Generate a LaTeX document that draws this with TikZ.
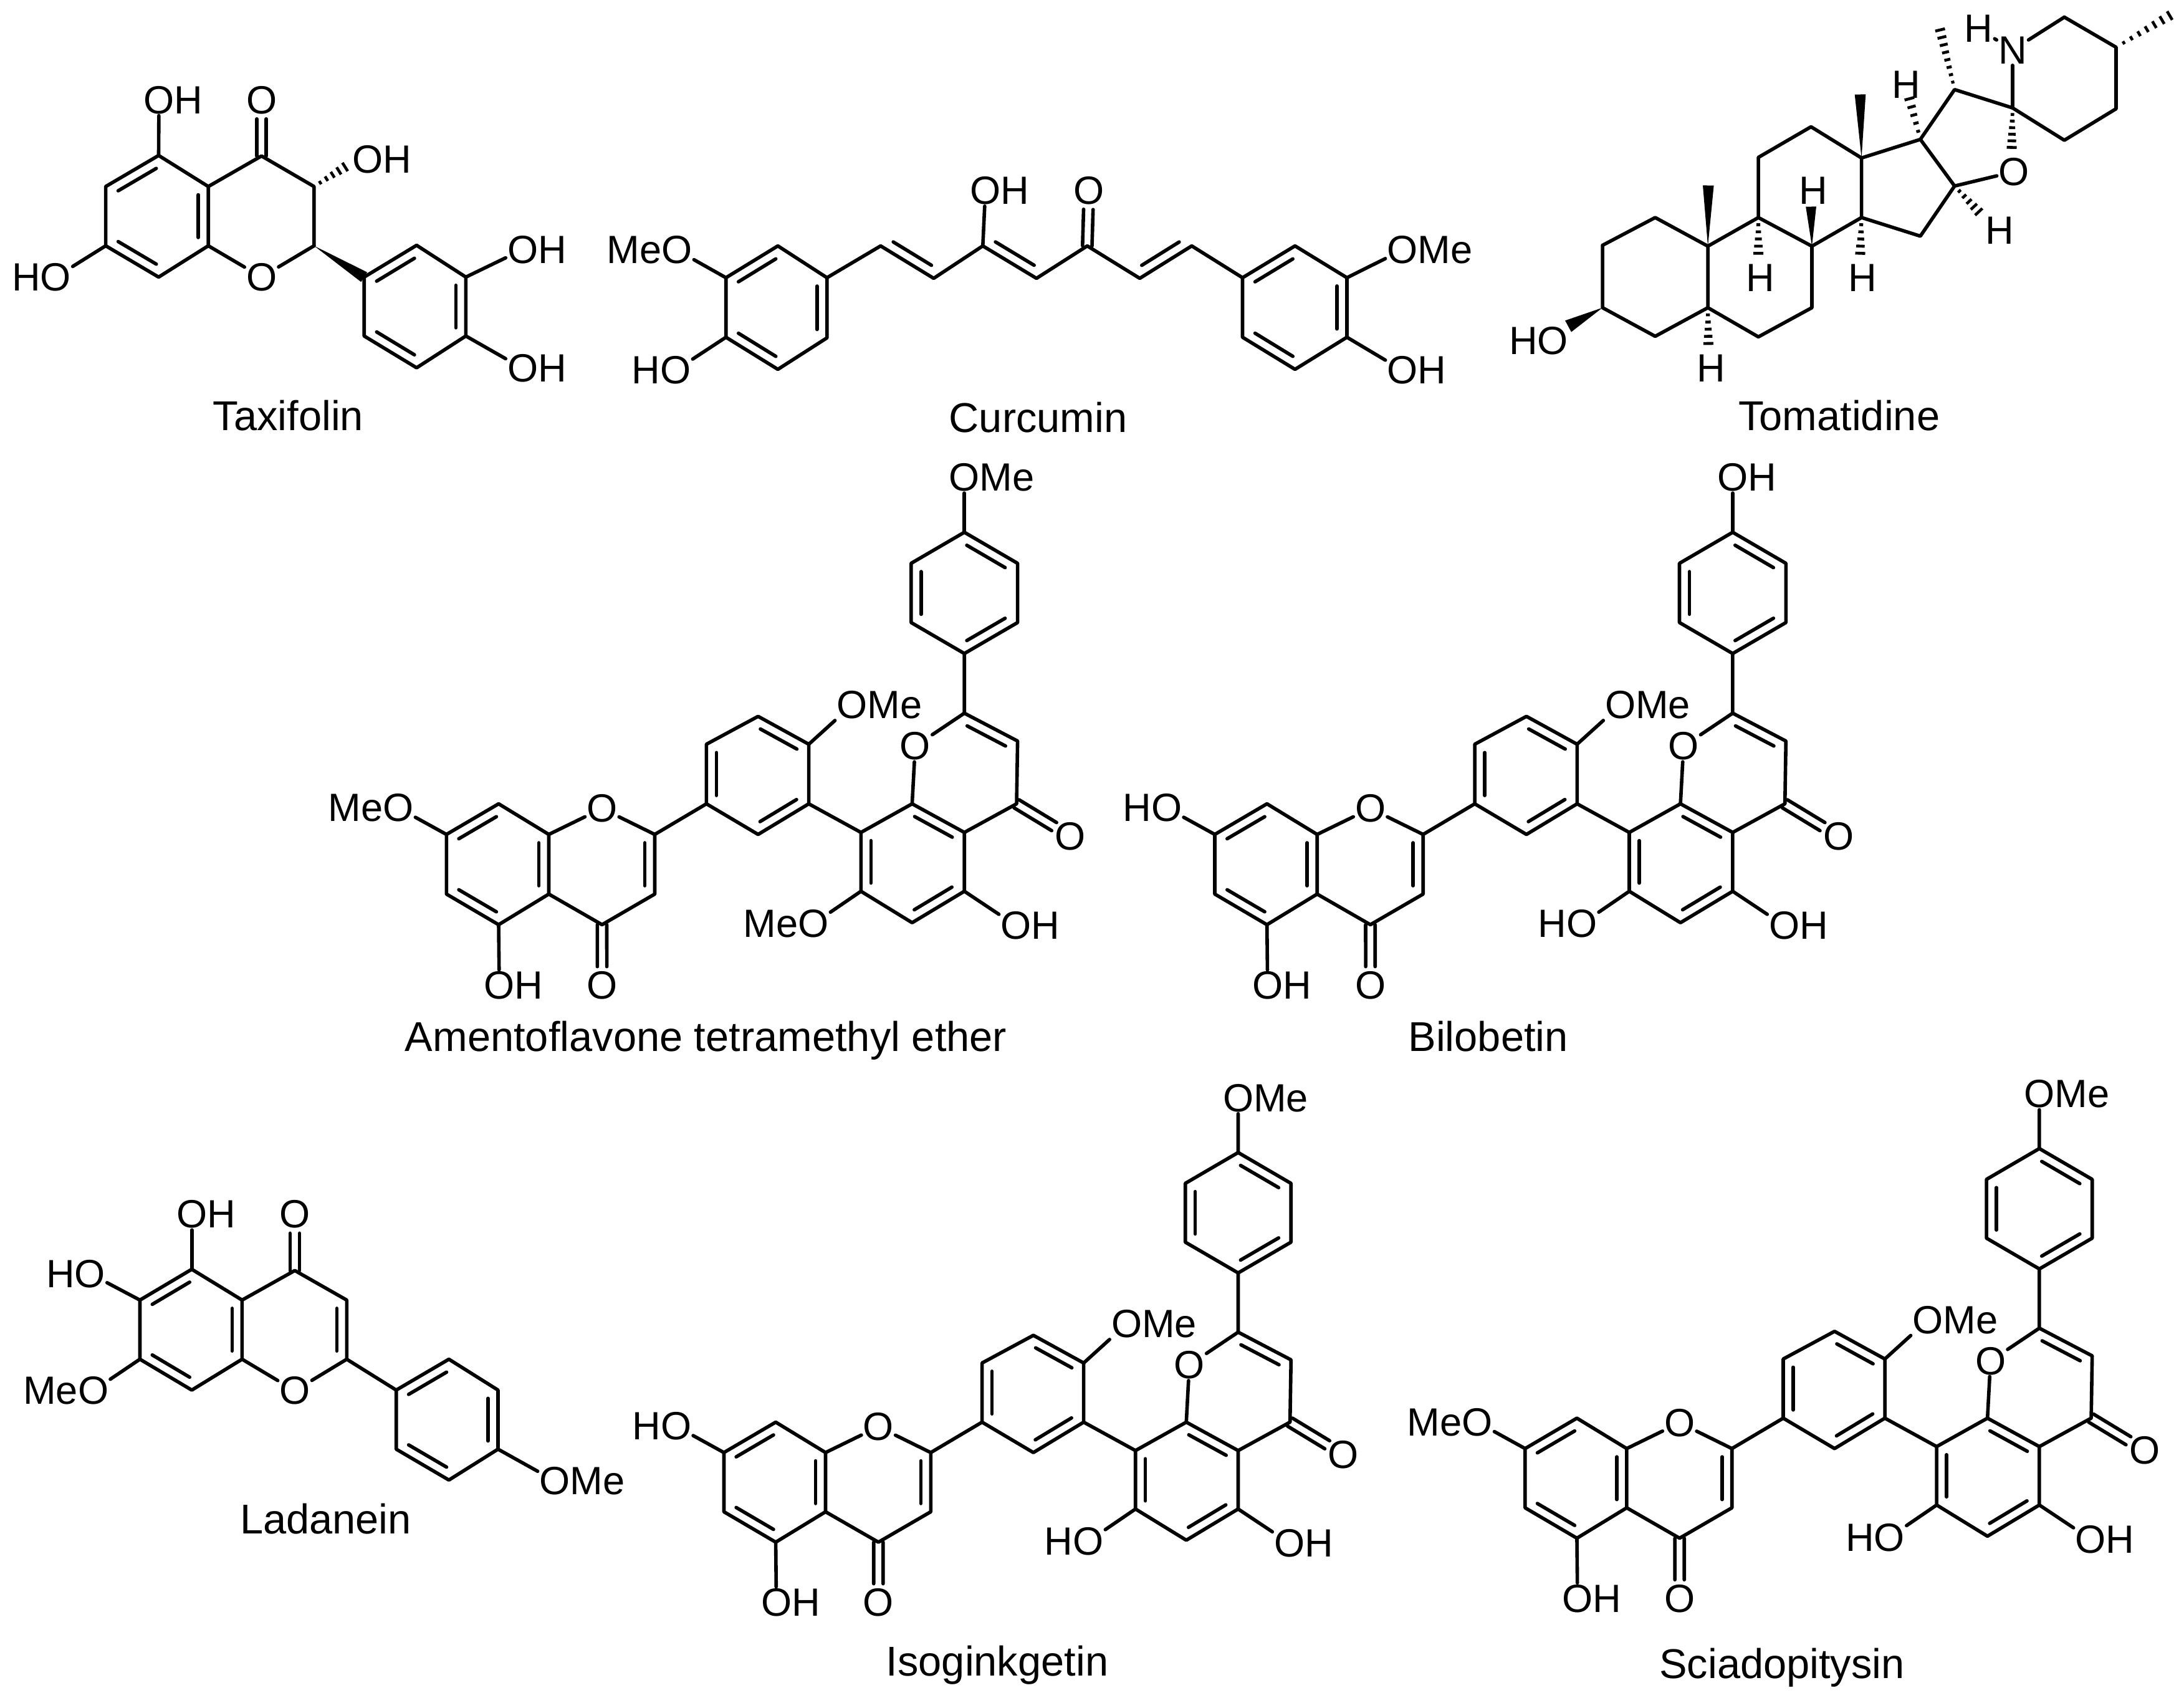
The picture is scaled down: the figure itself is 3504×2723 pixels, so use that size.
\documentclass[tikz,border=0pt]{standalone}
\usepackage{fontspec}
\setmainfont{Liberation Sans}
\usetikzlibrary{calc}
\tikzset{
  bond/.style={line width=1.4pt,line cap=round,line join=round,black},
  hashbar/.style={line width=1.15pt,line cap=butt,black},
  lab/.style={inner sep=0.5pt,font=\fontsize{15.8pt}{17pt}\selectfont,text=black},
  molname/.style={inner sep=0pt,text height=11.9pt,text depth=0pt,font=\fontsize{16.7pt}{18pt}\selectfont,text=black}
}
\newcommand\at[3]{\coordinate (#1) at (#2,#3);}
\newcommand\bd[2]{\draw[bond] (#1) -- (#2);}
\newcommand\dbl[2]{\draw[bond] ($(#1)!.14!(#2)!4pt!-90:(#2)$) -- ($(#1)!.86!(#2)!4pt!-90:(#2)$);}
\newcommand\dblO[2]{\coordinate (tmpE) at ($(#2.center)!7.6pt!(#1)$);
  \draw[bond] ($(#1)!1.9pt!90:(tmpE)$) -- ($(tmpE)!1.9pt!-90:(#1)$);
  \draw[bond] ($(#1)!1.9pt!-90:(tmpE)$) -- ($(tmpE)!1.9pt!90:(#1)$);}
\newcommand\solidw[3]{\fill[black] (#1) -- ($(#2)!#3pt!90:(#1)$) -- ($(#2)!#3pt!-90:(#1)$) -- cycle;}
\newcommand\hashw[3]{\foreach \hI in {1,...,#3}{%
  \pgfmathsetmacro\hT{\hI/#3}\pgfmathsetmacro\hW{0.45+1.55*\hT}%
  \draw[hashbar] ($(#1)!\hT!(#2)!\hW pt!90:(#1)$) -- ($(#1)!\hT!(#2)!\hW pt!-90:(#1)$);}}
% biflavone: #1 prefix, #2 #3 shift, #4 label at C7, #5 label lower left, #6 label on top, #7 scale
\newcommand\dimer[7]{\begin{scope}[shift={(#2,#3)},shift={(716.3,1338.6)},scale=#7,shift={(-716.3,-1338.6)}]
  \at{#1a7}{716.3}{1338.6}\at{#1a8}{800}{1289.5}\at{#1a8a}{880.5}{1338.6}\at{#1a4a}{880.5}{1434.3}
  \at{#1a5}{800}{1483.4}\at{#1a6}{716.3}{1434.3}\at{#1a4}{965.9}{1483.4}\at{#1a3}{1050.5}{1434.3}\at{#1a2}{1050.5}{1338.6}
  \at{#1b1}{1133.4}{1289.5}\at{#1b2}{1216.3}{1338.6}\at{#1b3}{1297.6}{1289.5}\at{#1b4}{1297.6}{1193.9}\at{#1b5}{1216.3}{1149.2}\at{#1b6}{1133.4}{1193.9}
  \at{#1c8}{1381.3}{1335.4}\at{#1c8a}{1463.4}{1289.5}\at{#1c4a}{1547.2}{1335.4}\at{#1c5}{1547.2}{1429.8}\at{#1c6}{1463.4}{1480.2}\at{#1c7}{1381.3}{1429.8}
  \at{#1c4}{1631}{1289.5}\at{#1c3}{1632.6}{1188.8}\at{#1c2}{1547.2}{1144.1}
  \at{#1d1}{1547.2}{1048.4}\at{#1d2}{1632.6}{998.7}\at{#1d3}{1632.6}{903.7}\at{#1d4}{1547.2}{853.9}\at{#1d5}{1461.8}{903.7}\at{#1d6}{1461.8}{998.7}
  \node[lab] (#1O1) at (965.9,1297) {O};
  \node[lab] (#1O2) at (1468.4,1197) {O};
  \node[lab] (#1Oa) at (966,1581) {O};
  \node[lab] (#1Oc) at (1717.2,1341.8) {O};
  \node[lab] (#1La7) at (639,1296) {#4};
  \node[lab] (#1La5) at (801,1581) {O\rlap{H}};
  \node[lab] (#1Lb4) at (1367,1131) {O\rlap{Me}};
  \node[lab] (#1Lc7) at (1305,1482) {#5};
  \node[lab] (#1Lc5) at (1630,1485) {O\rlap{H}};
  \node[lab] (#1Ld4) at (1547.2,765.9) {#6};
  \draw[bond] (#1a8a)--(#1a4a)--(#1a5)--(#1a6)--(#1a7)--(#1a8)--(#1a8a);
  \draw[bond] (#1a4a)--(#1a4)--(#1a3)--(#1a2)--(#1b1);
  \bd{#1a8a}{#1O1}\bd{#1a2}{#1O1}
  \draw[bond] (#1b1)--(#1b2)--(#1b3)--(#1b4)--(#1b5)--(#1b6)--(#1b1);
  \draw[bond] (#1b3)--(#1c8)--(#1c8a)--(#1c4a)--(#1c5)--(#1c6)--(#1c7)--(#1c8);
  \draw[bond] (#1c4a)--(#1c4)--(#1c3)--(#1c2)--(#1d1)--(#1d2)--(#1d3)--(#1d4)--(#1d5)--(#1d6)--(#1d1);
  \bd{#1c8a}{#1O2}\bd{#1c2}{#1O2}
  \bd{#1a7}{#1La7}\bd{#1a5}{#1La5}\bd{#1b4}{#1Lb4}\bd{#1c7}{#1Lc7}\bd{#1c5}{#1Lc5}\bd{#1d4}{#1Ld4}
  \dblO{#1a4}{#1Oa}\dblO{#1c4}{#1Oc}
  \dbl{#1a7}{#1a8}\dbl{#1a5}{#1a6}\dbl{#1a8a}{#1a4a}\dbl{#1a2}{#1a3}
  \dbl{#1b5}{#1b4}\dbl{#1b3}{#1b2}\dbl{#1b1}{#1b6}
  \dbl{#1c8a}{#1c4a}\dbl{#1c5}{#1c6}\dbl{#1c7}{#1c8}\dbl{#1c2}{#1c3}
  \dbl{#1d4}{#1d3}\dbl{#1d2}{#1d1}\dbl{#1d6}{#1d5}
\end{scope}}
\begin{document}
\begin{tikzpicture}[x=0.25pt,y=-0.25pt]
\useasboundingbox (0,0) rectangle (3504,2723);
\fill[white] (0,0) rectangle (3504,2723);
% ---------- Taxifolin
\at{t5}{254.5}{249.4}\at{t6}{169.6}{299.2}\at{t7}{169.6}{394.3}\at{t8}{254.5}{444.5}\at{t8a}{334.2}{394.3}\at{t4a}{334.2}{299.2}
\at{t4}{419.6}{250.2}\at{t3}{503.8}{299.2}\at{t2}{503.8}{394.3}
\at{tp1}{584.2}{444.5}\at{tp2}{668.4}{393.5}\at{tp3}{747.4}{444.5}\at{tp4}{747.4}{539}\at{tp5}{668.4}{590}\at{tp6}{584.2}{539}
\at{tE3}{553.6}{267.8}
\node[lab] (tO1) at (419.6,444.5) {O};
\node[lab] (tOc) at (419.6,160.4) {O};
\node[lab] (tL5) at (255,160.4) {O\rlap{H}};
\node[lab] (tL3) at (590,255.5) {O\rlap{H}};
\node[lab] (tL7) at (89.3,444.5) {\llap{H}O};
\node[lab] (tLa) at (838.6,400.4) {O\rlap{H}};
\node[lab] (tLb) at (838.6,591) {O\rlap{H}};
\draw[bond] (t4a)--(t8a)--(t8)--(t7)--(t6)--(t5)--(t4a)--(t4)--(t3)--(t2);
\draw[bond] (tp1)--(tp2)--(tp3)--(tp4)--(tp5)--(tp6)--(tp1);
\bd{t8a}{tO1}\bd{t2}{tO1}\bd{t5}{tL5}\bd{t7}{tL7}\bd{tp3}{tLa}\bd{tp4}{tLb}
\dblO{t4}{tOc}
\dbl{t6}{t5}\dbl{t4a}{t8a}\dbl{t8}{t7}\dbl{tp1}{tp2}\dbl{tp3}{tp4}\dbl{tp5}{tp6}
\solidw{t2}{tp1}{2.3}
\hashw{t3}{tE3}{5}
\node[molname] (nTax) at (462.4,666.5) {Taxifolin};
% ---------- Curcumin
\at{l1}{1164.7}{445.5}\at{l2}{1248}{394.5}\at{l3}{1326.8}{445.5}\at{l4}{1326.8}{542}\at{l5}{1248}{592.5}\at{l6}{1164.7}{541}
\at{c1}{1412.9}{394.5}\at{c2}{1498}{446.5}\at{c3}{1576.8}{394.5}\at{c4}{1662.9}{446.5}\at{c5}{1744.4}{394.5}\at{c6}{1828.6}{446.5}\at{c7}{1912}{394.5}
\at{r1}{1993.5}{445.5}\at{r2}{2077.7}{394.5}\at{r3}{2161}{445.5}\at{r4}{2161}{541}\at{r5}{2077.7}{592.5}\at{r6}{1993.5}{541}
\node[lab] (cOH) at (1581,305.6) {O\rlap{H}};
\node[lab] (cO) at (1747,305.6) {O};
\node[lab] (cMeL) at (1086,401.2) {\llap{Me}O};
\node[lab] (cHL) at (1084,594) {\llap{H}O};
\node[lab] (cMeR) at (2250,401.2) {O\rlap{Me}};
\node[lab] (cHR) at (2250,594) {O\rlap{H}};
\draw[bond] (l1)--(l2)--(l3)--(l4)--(l5)--(l6)--(l1);
\draw[bond] (l3)--(c1)--(c2)--(c3)--(c4)--(c5)--(c6)--(c7)--(r1);
\draw[bond] (r1)--(r2)--(r3)--(r4)--(r5)--(r6)--(r1);
\bd{c3}{cOH}\bd{l1}{cMeL}\bd{l6}{cHL}\bd{r3}{cMeR}\bd{r4}{cHR}
\dblO{c5}{cO}
\dbl{l1}{l2}\dbl{l3}{l4}\dbl{l5}{l6}\dbl{c2}{c1}\dbl{c4}{c3}\dbl{c7}{c6}\dbl{r1}{r2}\dbl{r3}{r4}\dbl{r5}{r6}
\node[molname] (nCur) at (1665.6,669.7) {Curcumin};
% ---------- Tomatidine
\at{m1}{2571.1}{393.5}\at{m2}{2655.6}{349}\at{m3}{2740.1}{394.9}\at{m4}{2740.1}{493.6}\at{m5}{2655.6}{539.5}\at{m6}{2571.1}{493.6}
\at{m7}{2821.1}{349}\at{m8}{2907}{394.9}\at{m9}{2907}{493.6}\at{m10}{2821.1}{540.4}
\at{m11}{2821.1}{252.5}\at{m12}{2905.6}{203.4}\at{m13}{2986.6}{253.4}\at{m14}{2986.6}{349}
\at{m15}{3081}{378.8}\at{m16}{3135.9}{298.4}\at{m17}{3081}{223.6}\at{m18}{3135.9}{143.7}\at{m19}{3228.9}{173.1}
\at{p1}{3312}{27.5}\at{p2}{3395}{75.8}\at{p3}{3395}{174.5}\at{p4}{3312}{225}
\at{eMeP}{3481}{25}\at{eMe18}{3112.7}{48}\at{eH17}{3063.4}{158.4}\at{eMe13}{2984.5}{151.5}\at{eMe3}{2740.8}{297.5}\at{eH8}{2905.6}{331.5}
\at{eH7}{2821}{406.3}\at{eH14}{2984.5}{406.3}\at{eH4}{2740.8}{551}\at{eH16}{3174.6}{339.8}\at{eO}{3227.5}{236.5}\at{eHO}{2516}{523.4}
\node[lab] (mO) at (3231,275.5) {O};
\node[lab] (mN) at (3228.9,80.3) {N};
\node[lab] (mHN) at (3174.6,45.9) {H};
\node[lab] (mH17) at (3058.5,135.4) {H};
\node[lab] (mH8) at (2909,305.3) {H};
\node[lab] (mH7) at (2824.6,445.4) {H};
\node[lab] (mH14) at (2988,445.4) {H};
\node[lab] (mH4) at (2745,591) {H};
\node[lab] (mH16) at (3208.4,369.6) {H};
\node[lab] (mHO) at (2491.5,546.4) {\llap{H}O};
\draw[bond] (m1)--(m2)--(m3)--(m4)--(m5)--(m6)--(m1);
\draw[bond] (m3)--(m7)--(m8)--(m9)--(m10)--(m4);
\draw[bond] (m7)--(m11)--(m12)--(m13)--(m14)--(m8);
\draw[bond] (m13)--(m17)--(m16)--(m15)--(m14);
\draw[bond] (m17)--(m18)--(m19)--(p4)--(p3)--(p2)--(p1);
\bd{m16}{mO}\bd{m19}{mN}\bd{p1}{mN}\bd{mHN}{mN}
\solidw{m13}{eMe13}{2.2}\solidw{m3}{eMe3}{2.2}\solidw{m8}{eH8}{2.1}\solidw{m6}{eHO}{2.6}
\hashw{m18}{eMe18}{8}\hashw{m17}{eH17}{5}\hashw{m7}{eH7}{5}\hashw{m14}{eH14}{5}\hashw{m4}{eH4}{5}\hashw{m16}{eH16}{5}\hashw{m19}{eO}{6}\hashw{p2}{eMeP}{7}
\node[molname] (nTom) at (2950.7,666.7) {Tomatidine};
% ---------- Ladanein
\at{q5}{307.7}{2036.2}\at{q6}{224.5}{2085.6}\at{q7}{224.5}{2180.5}\at{q8}{307.7}{2230}\at{q8a}{388.4}{2180.5}\at{q4a}{388.4}{2085.6}
\at{q4}{473}{2038.2}\at{q3}{556.3}{2085.6}\at{q2}{556.3}{2180.5}
\at{qp1}{635.7}{2230}\at{qp2}{720.2}{2180.5}\at{qp3}{799}{2230}\at{qp4}{799}{2324.8}\at{qp5}{720.2}{2374.3}\at{qp6}{635.7}{2324.8}
\node[lab] (qO1) at (473,2231) {O};
\node[lab] (qOc) at (473,1948) {O};
\node[lab] (qL5) at (307.7,1948) {O\rlap{H}};
\node[lab] (qL6) at (144.4,2043.3) {\llap{H}O};
\node[lab] (qL7) at (149.6,2231) {\llap{Me}O};
\node[lab] (qLp) at (890,2375.5) {O\rlap{Me}};
\draw[bond] (q4a)--(q8a)--(q8)--(q7)--(q6)--(q5)--(q4a)--(q4)--(q3)--(q2)--(qp1);
\draw[bond] (qp1)--(qp2)--(qp3)--(qp4)--(qp5)--(qp6)--(qp1);
\bd{q8a}{qO1}\bd{q2}{qO1}\bd{q5}{qL5}\bd{q6}{qL6}\bd{q7}{qL7}\bd{qp4}{qLp}
\dblO{q4}{qOc}
\dbl{q6}{q5}\dbl{q4a}{q8a}\dbl{q8}{q7}\dbl{q3}{q2}\dbl{qp1}{qp2}\dbl{qp3}{qp4}\dbl{qp5}{qp6}
\node[molname] (nLad) at (522.5,2437) {Ladanein};
% ---------- Biflavones
\dimer{A}{0}{0}{\llap{Me}O}{\llap{Me}O}{O\rlap{Me}}{1}
\node[molname] (nAme) at (1132.6,1662.6) {Amentoflavone tetramethyl ether};
\dimer{B}{1232.7}{0}{\llap{H}O}{\llap{H}O}{O\rlap{H}}{1}
\node[molname] (nBil) at (2387.7,1662.6) {Bilobetin};
\dimer{I}{445.2}{991.7}{\llap{H}O}{\llap{H}O}{O\rlap{Me}}{0.993}
\node[molname] (nIso) at (1600,2665) {Isoginkgetin};
\dimer{S}{1730.6}{985.3}{\llap{Me}O}{\llap{H}O}{O\rlap{Me}}{0.993}
\node[molname] (nSci) at (2859,2669) {Sciadopitysin};
\end{tikzpicture}
\end{document}
